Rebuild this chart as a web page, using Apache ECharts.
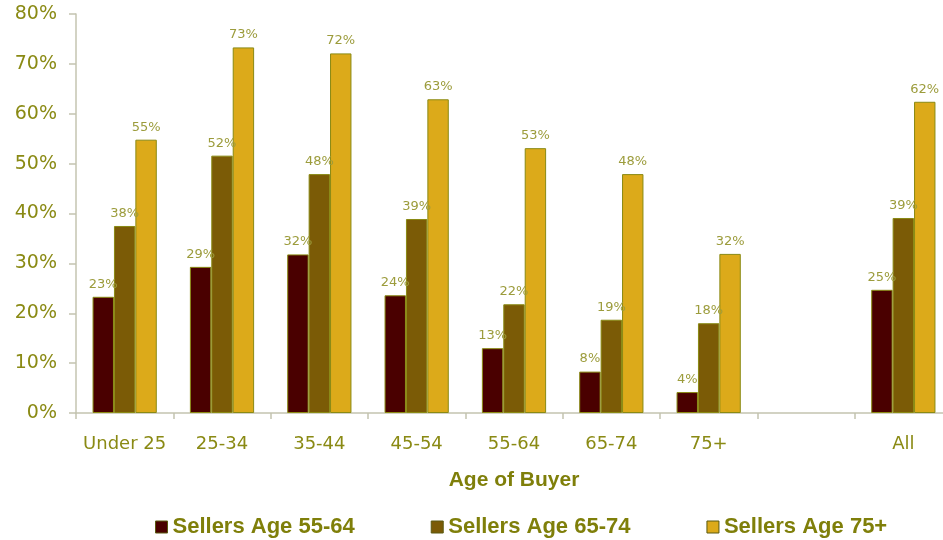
<!DOCTYPE html>
<html>
<head>
<meta charset="utf-8">
<script src="https://cdn.jsdelivr.net/npm/echarts@6/dist/echarts.min.js"></script>
<style>
  html, body { margin: 0; padding: 0; background: #fff; }
  #chart { width: 943px; height: 540px; overflow: hidden; }
</style>
</head>
<body>
<div id="chart"></div>
<script>
// age of buyer groups (blank slot before "All")
const categories = ["Under 25", "25-34", "35-44", "45-54", "55-64", "65-74", "75+", "", "All"];
const seriesNames = ["Sellers Age 55-64", "Sellers Age 65-74", "Sellers Age 75+"];
const sellers5564 = [23.3, 29.3, 31.8, 23.6, 13.0, 8.3, 4.2, null, 24.7];
const sellers6574 = [37.5, 51.6, 47.9, 38.9, 21.8, 18.7, 18.0, null, 39.1];
const sellers75 = [54.8, 73.3, 72.1, 62.9, 53.1, 47.9, 31.9, null, 62.4];
const yTicks = [0, 10, 20, 30, 40, 50, 60, 70, 80];

const colors = ["#4a0000", "#7b5b06", "#dcaa1a"];
const olive = "#8a8a14";
const axisGrey = "#c4c4b0";

const chart = echarts.init(document.getElementById("chart"));

const makeSeries = (name, data, i) => ({
  name: name,
  type: "bar",
  data: data,
  barGap: "0%",
  barCategoryGap: "34%",
  itemStyle: {
    color: colors[i],
    borderColor: olive,
    borderWidth: 1,
  },
  label: {
    show: true,
    position: "top",
    distance: 6,
    color: "#9c9c3c",
    fontFamily: "DejaVu Sans",
    fontSize: 13,
    formatter: (p) => Math.round(p.value) + "%",
  },
});

chart.setOption({
  animation: false,
  grid: {
    left: 76,
    width: 876,
    top: 14,
    bottom: 127,
    containLabel: false,
    outerBoundsMode: "none",
  },
  legend: {
    left: 150,
    top: 511,
    itemWidth: 12,
    itemHeight: 12,
    itemGap: 76,
    icon: "rect",
    textStyle: {
      color: "#7f7f0a",
      fontFamily: "Liberation Sans",
      fontWeight: "bold",
      fontSize: 22,
    },
    data: seriesNames.map((n, i) => ({
      name: n,
      itemStyle: { color: colors[i], borderColor: "#5a5a10", borderWidth: 1 },
    })),
  },
  xAxis: {
    type: "category",
    data: categories,
    name: "Age of Buyer",
    nameLocation: "middle",
    nameGap: 57,
    nameTextStyle: {
      color: "#7f7f0a",
      fontFamily: "Liberation Sans",
      fontWeight: "bold",
      fontSize: 21,
    },
    axisLine: { lineStyle: { color: axisGrey, width: 1.5 } },
    axisTick: { show: true, length: 6, lineStyle: { color: axisGrey, width: 1.5 } },
    axisLabel: {
      color: "#8a8a14",
      fontFamily: "DejaVu Sans",
      fontSize: 18,
      margin: 22,
      interval: 0,
    },
  },
  yAxis: {
    type: "value",
    min: yTicks[0],
    max: yTicks[yTicks.length - 1],
    interval: 10,
    axisLine: { show: true, lineStyle: { color: axisGrey, width: 1.5 } },
    axisTick: { show: true, length: 7, lineStyle: { color: axisGrey, width: 1.5 } },
    splitLine: { show: false },
    axisLabel: {
      color: "#8a8a14",
      fontFamily: "DejaVu Sans",
      fontSize: 19,
      margin: 19,
      formatter: "{value}%",
    },
  },
  series: [
    makeSeries(seriesNames[0], sellers5564, 0),
    makeSeries(seriesNames[1], sellers6574, 1),
    makeSeries(seriesNames[2], sellers75, 2),
  ],
});
</script>
</body>
</html>
